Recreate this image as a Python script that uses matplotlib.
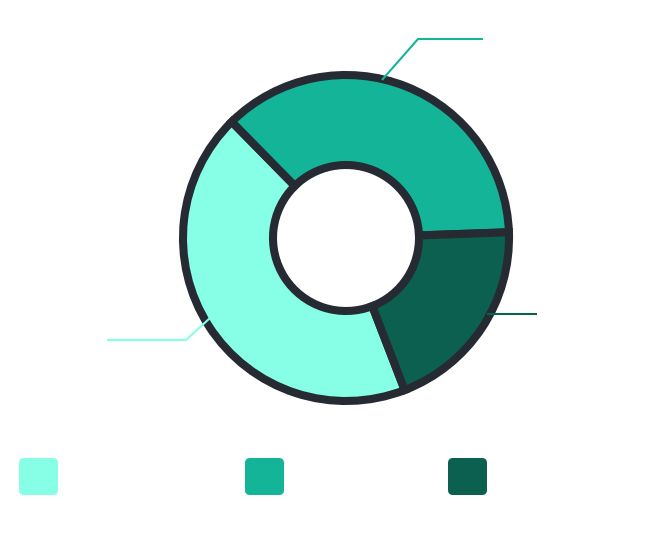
import matplotlib
matplotlib.use("Agg")
import matplotlib.pyplot as plt
from matplotlib.patches import FancyBboxPatch

categories = ["A", "B", "C"]
values = [43.5, 36.8, 19.7]
colors = ["#87FFE6", "#14B498", "#0C6050"]
edge = "#262A33"

W, H = 653, 553
fig = plt.figure(figsize=(W / 100, H / 100), dpi=100)
ax = fig.add_axes([0, 0, 1, 1])

cx, cy = 346, 315
R = 163
ring = 90
ax.pie(values, colors=colors, startangle=-68.9, counterclock=False,
       center=(cx, cy), radius=R,
       wedgeprops=dict(width=ring, edgecolor=edge, linewidth=5.8))

# leader lines
leaders = [
    ([210, 186, 107], [235, 213, 213], colors[0]),
    ([382, 418, 483], [473, 514, 514], colors[1]),
    ([487, 537], [239, 239], colors[2]),
]
for xs, ys, c in leaders:
    ax.plot(xs, ys, color=c, lw=1.5, solid_capstyle="butt", zorder=3)

# legend squares
leg_x = [19, 245, 448]
for x0, c in zip(leg_x, colors):
    ax.add_patch(FancyBboxPatch((x0 + 5, 58 + 5), 39 - 10, 37 - 10,
                                boxstyle="round,pad=5", facecolor=c,
                                edgecolor="none"))

ax.set_xlim(0, W)
ax.set_ylim(0, H)
ax.set_aspect("auto")
ax.axis("off")
fig.savefig("out.png", dpi=100, facecolor="white")
